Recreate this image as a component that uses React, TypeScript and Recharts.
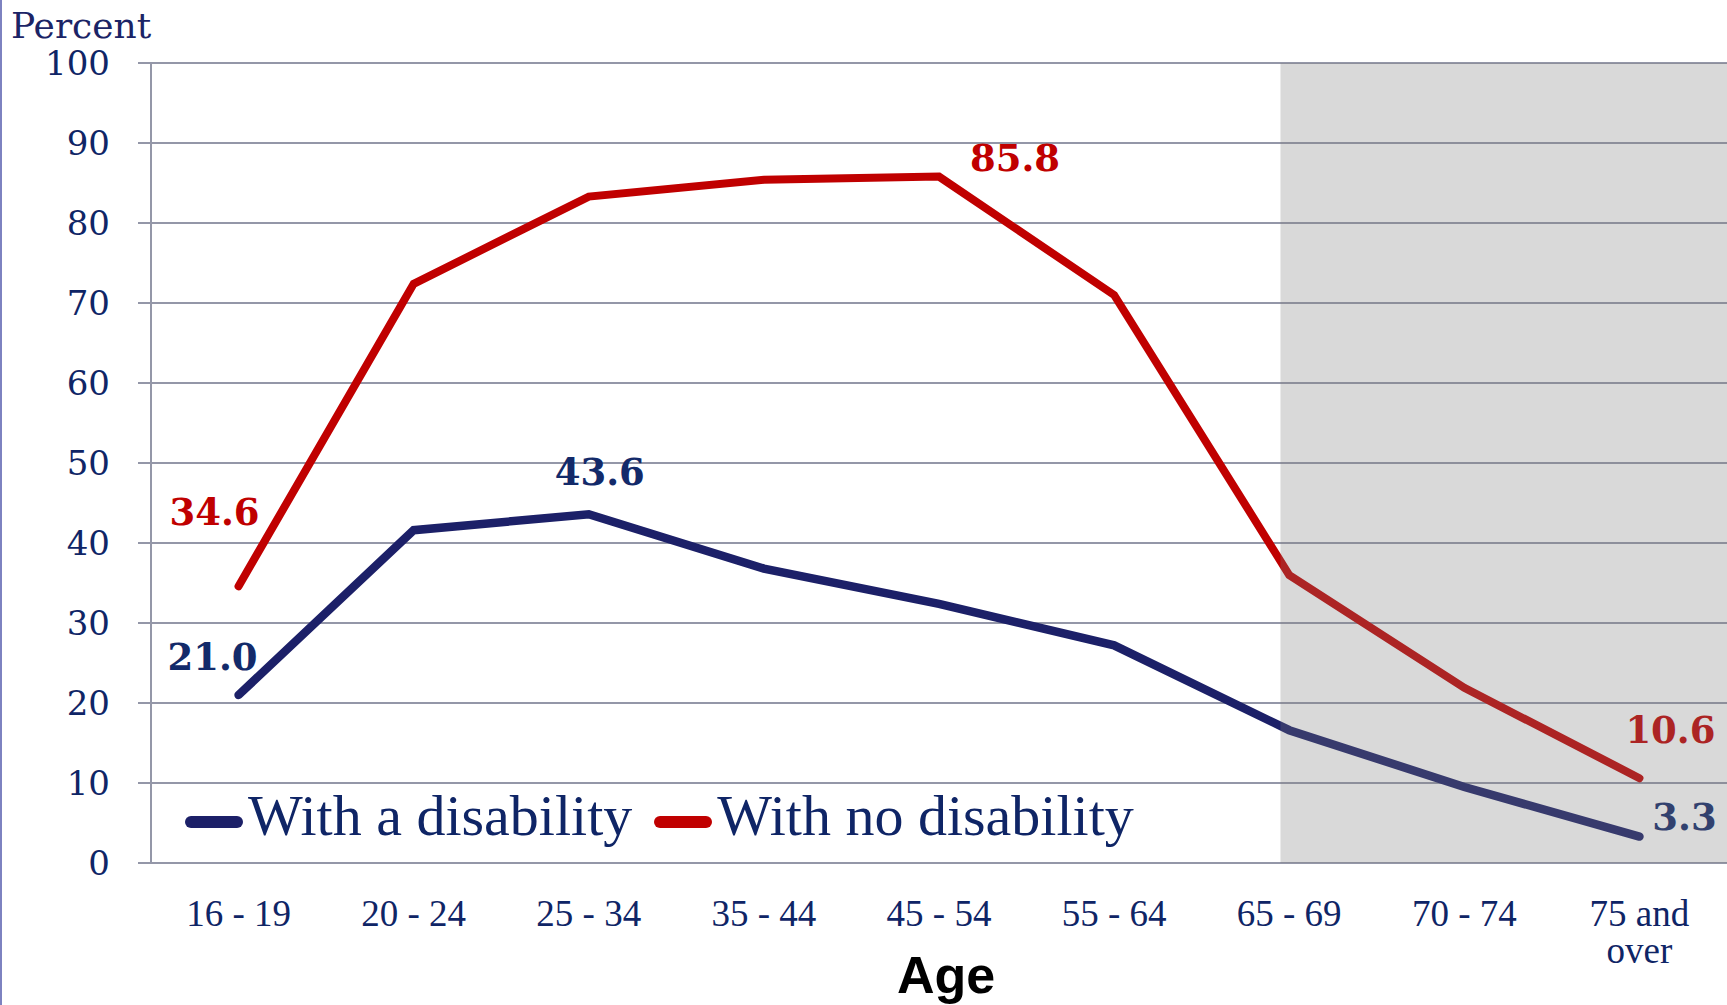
import { CartesianGrid, LabelList, Legend, Line, LineChart, ReferenceArea, XAxis, YAxis } from "recharts"

const ageGroups = ["16 - 19", "20 - 24", "25 - 34", "35 - 44", "45 - 54", "55 - 64", "65 - 69", "70 - 74", "75 and over"]
const withDisability = [21.0, 41.6, 43.6, 36.8, 32.4, 27.2, 16.6, 9.5, 3.3]
const withNoDisability = [34.6, 72.4, 83.3, 85.4, 85.8, 71.0, 36.0, 21.9, 10.6]
const yTicks = [0, 10, 20, 30, 40, 50, 60, 70, 80, 90, 100]
// shaded band for the 65+ groups (x in category index units)
const shadeFrom = 5.95

const data = ageGroups.map((age, i) => ({
  idx: i,
  age,
  disability: withDisability[i],
  noDisability: withNoDisability[i],
}))

const centerTicks = ageGroups.map((_, i) => i)
const boundaryTicks = [...ageGroups.map((_, i) => i - 0.5), ageGroups.length - 0.5]
const xDomain = [-0.5, ageGroups.length - 0.5]

const BLUE = "#1c2068"
const RED = "#c00000"
const TEXT = "#0f2566"
const GRID = "#9497a8"

// where each printed value sits relative to its point
const blueLabels: Record<number, [number, number]> = { 0: [-26, -38], 2: [11, -42], 8: [45, -20] }
const redLabels: Record<number, [number, number]> = { 0: [-24, -74], 4: [76, -19], 8: [31, -48] }

function makeLabel(offsets: Record<number, [number, number]>, color: string) {
  return (props: any) => {
    const { x, y, value, index } = props
    const off = offsets[index]
    if (!off) return null
    return (
      <text
        x={x + off[0]}
        y={y + off[1]}
        textAnchor="middle"
        dominantBaseline="central"
        fill={color}
        fontFamily="DejaVu Serif"
        fontWeight="bold"
        fontSize={37}
      >
        {Number(value).toFixed(1)}
      </text>
    )
  }
}

// greedy word wrap, like the narrow category slots in the original
function wrapLabel(label: string, maxChars: number) {
  const lines: string[] = []
  let cur = ""
  for (const w of label.split(" ")) {
    const next = cur ? cur + " " + w : w
    if (next.length > maxChars && cur) {
      lines.push(cur)
      cur = w
    } else {
      cur = next
    }
  }
  if (cur) lines.push(cur)
  return lines
}

function AgeTick({ x, y, payload }: any) {
  const lines = wrapLabel(ageGroups[payload.value], 8)
  return (
    <text x={x} y={y + 61} textAnchor="middle" fill={TEXT} fontSize={37} fontFamily="Liberation Serif">
      {lines.map((line, i) => (
        <tspan key={i} x={x} dy={i ? 37 : 0}>
          {line}
        </tspan>
      ))}
    </text>
  )
}

function LegendContent({ payload }: any) {
  return (
    <div style={{ display: "flex", alignItems: "flex-start", whiteSpace: "nowrap" }}>
      {(payload || []).map((entry: any, i: number) => (
        <div key={entry.value} style={{ display: "flex", marginLeft: i ? 22 : 0 }}>
          <svg width={63} height={58}>
            <line x1={6} x2={52} y1={35} y2={35} stroke={entry.color} strokeWidth={12} strokeLinecap="round" />
          </svg>
          <span style={{ fontFamily: "Liberation Serif", fontSize: 58, lineHeight: "58px", color: TEXT }}>
            {entry.value}
          </span>
        </div>
      ))}
    </div>
  )
}

export default function App() {
  return (
    <div style={{ position: "absolute", left: 0, top: 0, width: 1727, height: 1005, background: "#fff" }}>
      <div style={{ position: "absolute", left: 0, top: 0, width: 2, height: 1005, background: "#7d82c0" }} />
      <LineChart width={1727} height={1005} data={data} margin={{ top: 63, right: 0, bottom: 0, left: 0 }}>
        <CartesianGrid xAxisId="main" vertical={false} stroke={GRID} strokeWidth={2} />
        <XAxis
          xAxisId="bounds"
          type="number"
          dataKey="idx"
          domain={xDomain}
          ticks={boundaryTicks}
          tick={false}
          tickSize={11}
          height={2}
          stroke={GRID}
          axisLine={{ stroke: GRID, strokeWidth: 2 }}
          tickLine={{ stroke: GRID, strokeWidth: 2 }}
        />
        <XAxis
          xAxisId="main"
          type="number"
          dataKey="idx"
          domain={xDomain}
          ticks={centerTicks}
          interval={0}
          axisLine={false}
          tickLine={false}
          tickSize={0}
          tickMargin={0}
          height={140}
          tick={<AgeTick />}
          label={(props: any) => {
            const vb = props.viewBox
            return (
              <text
                x={vb.x + vb.width / 2 + 7}
                y={vb.y + 128}
                textAnchor="middle"
                fontFamily="Liberation Sans"
                fontWeight="bold"
                fontSize={52}
                fill="#000"
              >
                Age
              </text>
            )
          }}
        />
        <YAxis
          domain={[0, 100]}
          ticks={yTicks}
          interval={0}
          width={151}
          tickSize={13}
          tickMargin={28}
          axisLine={{ stroke: GRID, strokeWidth: 2 }}
          tickLine={{ stroke: GRID, strokeWidth: 2 }}
          tick={{ fill: TEXT, fontSize: 34, fontFamily: "DejaVu Serif" }}
          label={(props: any) => {
            const vb = props.viewBox
            return (
              <text x={11} y={vb.y - 25} fontFamily="DejaVu Serif" fontSize={36} fill="#1b2466">
                Percent
              </text>
            )
          }}
        />
        <Legend
          layout="horizontal"
          verticalAlign="middle"
          align="center"
          content={<LegendContent />}
          wrapperStyle={{ left: 185, top: 787, width: "auto" }}
        />
        <Line
          xAxisId="main"
          type="linear"
          dataKey="disability"
          name="With a disability"
          stroke={BLUE}
          strokeWidth={8.5}
          strokeLinecap="round"
          dot={false}
          activeDot={false}
          isAnimationActive={false}
        >
          <LabelList dataKey="disability" content={makeLabel(blueLabels, "#132a6a")} />
        </Line>
        <Line
          xAxisId="main"
          type="linear"
          dataKey="noDisability"
          name="With no disability"
          stroke={RED}
          strokeWidth={8}
          strokeLinecap="round"
          dot={false}
          activeDot={false}
          isAnimationActive={false}
        >
          <LabelList dataKey="noDisability" content={makeLabel(redLabels, RED)} />
        </Line>
        <ReferenceArea
          xAxisId="main"
          x1={shadeFrom}
          x2={xDomain[1]}
          y1={0}
          y2={100}
          fill="#7c7c7c"
          fillOpacity={0.29}
          stroke="none"
          zIndex={2500}
        />
      </LineChart>
    </div>
  )
}
